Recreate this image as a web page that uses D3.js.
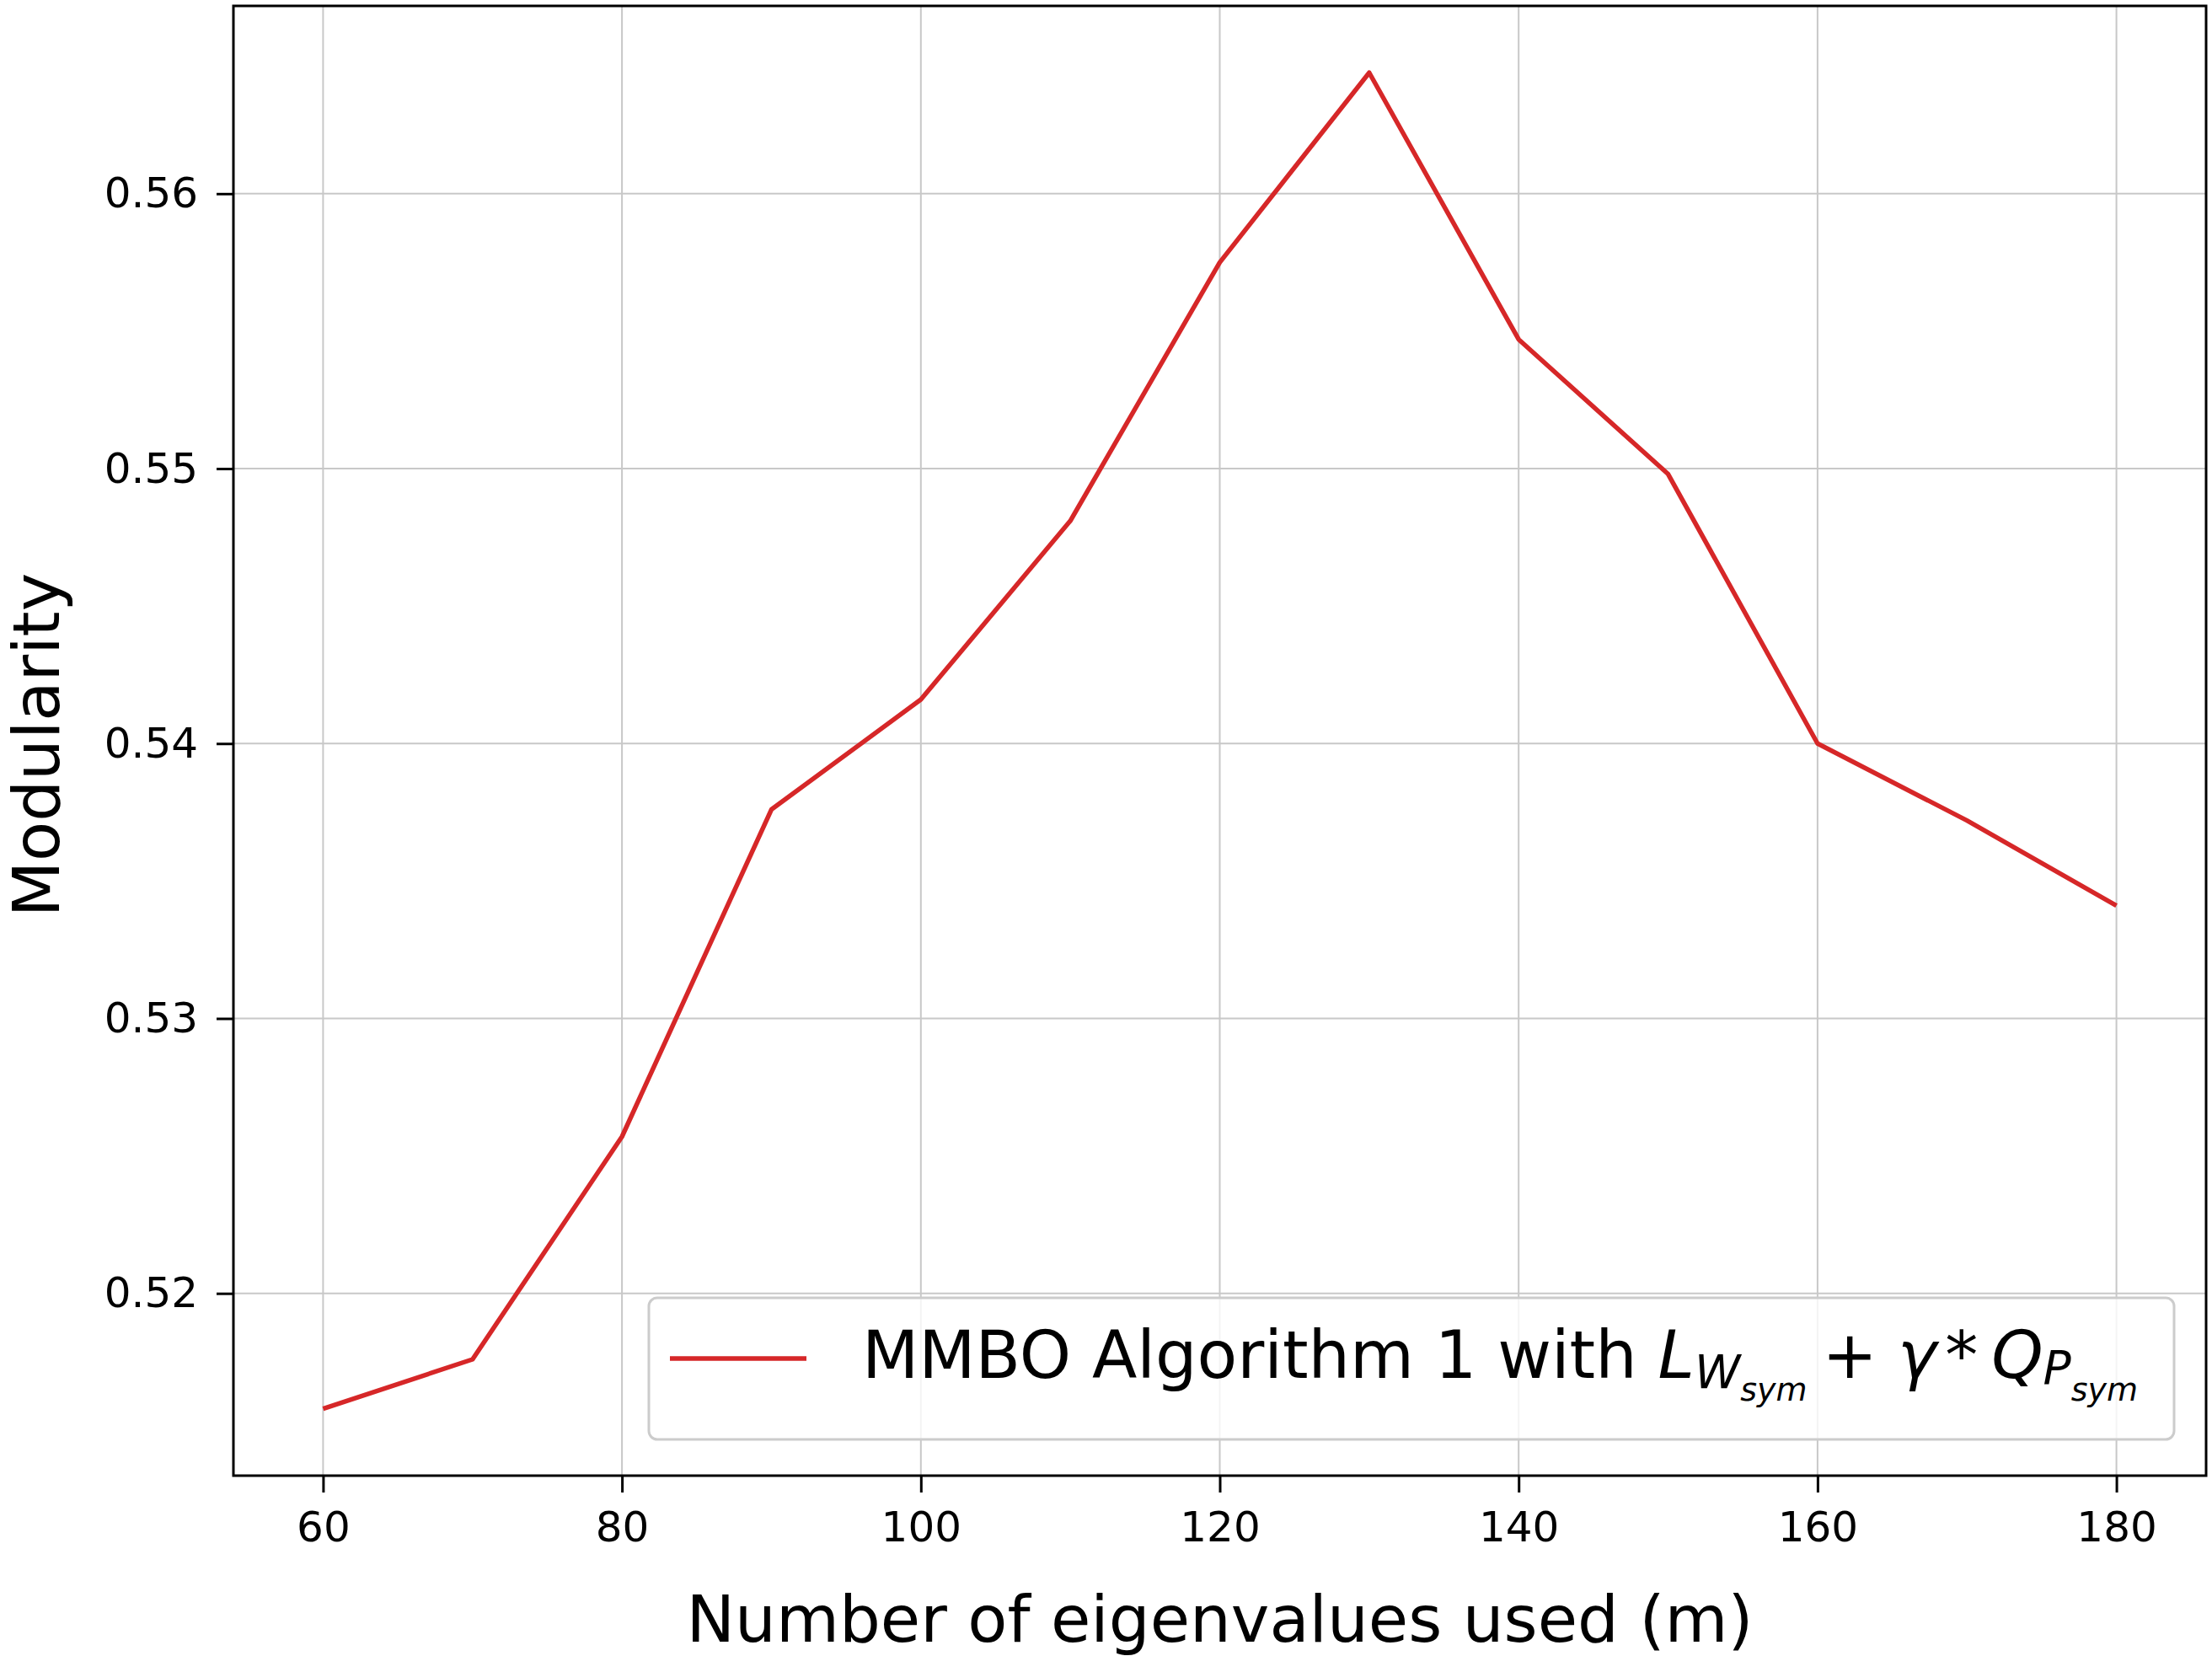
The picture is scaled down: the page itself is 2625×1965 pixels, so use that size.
<!DOCTYPE html>
<html>
<head>
<meta charset="utf-8">
<script src="https://cdn.jsdelivr.net/npm/d3@7"></script>
<style>
  html, body { margin: 0; padding: 0; background: #ffffff; }
  svg { display: block; }
  text { font-family: "DejaVu Sans", sans-serif; fill: #000; }
</style>
</head>
<body>
<svg id="chart" width="2625" height="1965"></svg>
<script>
// ---- data ----
const eigenCounts = [60, 70, 80, 90, 100, 110, 120, 130, 140, 150, 160, 170, 180];
const modularity = [0.5158, 0.5176, 0.5257, 0.5376, 0.5416, 0.5481, 0.5575, 0.5644, 0.5547, 0.5498, 0.5400, 0.5372, 0.5341];
const xTicks = [60, 80, 100, 120, 140, 160, 180];
const yTicks = [0.52, 0.53, 0.54, 0.55, 0.56];
const xLabel = "Number of eigenvalues used (m)";
const yLabel = "Modularity";
const legendPrefix = "MMBO Algorithm 1 with ";

// ---- layout ----
const W = 2625, H = 1965;
const plot = { left: 277, right: 2618, top: 7, bottom: 1751 };
const lineColor = "#d62728";

const svg = d3.select("#chart");
svg.append("rect").attr("width", W).attr("height", H).attr("fill", "#fff");

const xMin = d3.min(eigenCounts), xMax = d3.max(eigenCounts);
const xPad = (xMax - xMin) * 0.05;
const x = d3.scaleLinear().domain([xMin - xPad, xMax + xPad]).range([plot.left, plot.right]);
const yMin = d3.min(modularity), yMax = d3.max(modularity);
const yPad = (yMax - yMin) * 0.05;
const y = d3.scaleLinear().domain([yMin - yPad, yMax + yPad]).range([plot.bottom, plot.top]);

// grid
const grid = svg.append("g").attr("class", "grid");
grid.selectAll("line.gx").data(xTicks).join("line")
  .attr("x1", d => x(d)).attr("x2", d => x(d))
  .attr("y1", plot.top).attr("y2", plot.bottom)
  .attr("stroke", "#c8c8c8").attr("stroke-width", 2);
grid.selectAll("line.gy").data(yTicks).join("line")
  .attr("x1", plot.left).attr("x2", plot.right)
  .attr("y1", d => y(d)).attr("y2", d => y(d))
  .attr("stroke", "#c8c8c8").attr("stroke-width", 2);

// data line
const lineGen = d3.line().x((d, i) => x(eigenCounts[i])).y(d => y(d));
svg.append("path").datum(modularity)
  .attr("d", lineGen)
  .attr("fill", "none")
  .attr("stroke", lineColor)
  .attr("stroke-width", 5.5)
  .attr("stroke-linejoin", "round")
  .attr("stroke-linecap", "butt");

// axes
const xAxis = d3.axisBottom(x).tickValues(xTicks).tickFormat(d3.format("d"))
  .tickSize(20).tickPadding(22);
const yAxis = d3.axisLeft(y).tickValues(yTicks).tickFormat(d3.format(".2f"))
  .tickSize(20).tickPadding(22);

const gx = svg.append("g").attr("transform", `translate(0,${plot.bottom})`).call(xAxis);
const gy = svg.append("g").attr("transform", `translate(${plot.left},0)`).call(yAxis);
[gx, gy].forEach(g => {
  g.select(".domain").remove();
  g.selectAll(".tick line").attr("stroke", "#000").attr("stroke-width", 3);
  g.selectAll(".tick text").attr("font-size", 50)
    .attr("font-family", "DejaVu Sans").attr("fill", "#000");
});

// frame
svg.append("rect")
  .attr("x", plot.left).attr("y", plot.top)
  .attr("width", plot.right - plot.left).attr("height", plot.bottom - plot.top)
  .attr("fill", "none").attr("stroke", "#000").attr("stroke-width", 3);

// axis titles
svg.append("text")
  .attr("x", (plot.left + plot.right) / 2).attr("y", 1948)
  .attr("text-anchor", "middle").attr("font-size", 77)
  .text(xLabel);
svg.append("text")
  .attr("transform", `translate(70,${(plot.top + plot.bottom) / 2 + 5}) rotate(-90)`)
  .attr("text-anchor", "middle").attr("font-size", 77)
  .text(yLabel);

// legend
const lg = svg.append("g");
lg.append("rect")
  .attr("x", 770).attr("y", 1540).attr("width", 1810).attr("height", 168)
  .attr("rx", 10).attr("ry", 10)
  .attr("fill", "#ffffff").attr("fill-opacity", 0.8)
  .attr("stroke", "#cccccc").attr("stroke-width", 3);
lg.append("line")
  .attr("x1", 795).attr("x2", 957).attr("y1", 1612).attr("y2", 1612)
  .attr("stroke", lineColor).attr("stroke-width", 5.5);
const lt = lg.append("text").attr("x", 1023).attr("y", 1635).attr("font-size", 78);
lt.append("tspan").text(legendPrefix);
lt.append("tspan").attr("font-style", "italic").text("L");
lt.append("tspan").attr("font-style", "italic").attr("font-size", 55).attr("dy", 12).text("W");
lt.append("tspan").attr("font-style", "italic").attr("font-size", 38).attr("dy", 15).text("sym");
lt.append("tspan").attr("dy", -27).attr("dx", 18).text("+");
lt.append("tspan").attr("font-style", "italic").attr("dx", 24).text("γ");
lt.append("tspan").attr("dx", 10).text("*");
lt.append("tspan").attr("font-style", "italic").attr("dx", 16).text("Q");
lt.append("tspan").attr("font-style", "italic").attr("font-size", 55).attr("dy", 7).text("P");
lt.append("tspan").attr("font-style", "italic").attr("font-size", 38).attr("dy", 20).text("sym");
</script>
</body>
</html>
